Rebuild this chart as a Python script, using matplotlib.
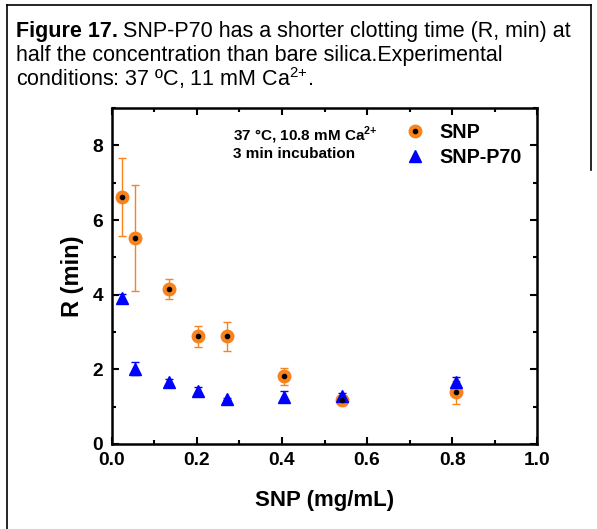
import matplotlib
matplotlib.use("Agg")
import matplotlib.pyplot as plt
from matplotlib.lines import Line2D
from matplotlib.legend_handler import HandlerTuple

plt.rcParams['font.family'] = ['Liberation Sans', 'DejaVu Sans']
plt.rcParams['mathtext.fontset'] = 'custom'
plt.rcParams['mathtext.rm'] = 'Liberation Sans'
plt.rcParams['mathtext.bf'] = 'Liberation Sans:bold'

# data
snp_x = [0.025, 0.054, 0.135, 0.203, 0.27, 0.405, 0.54, 0.81]
snp_y = [6.62, 5.52, 4.16, 2.88, 2.88, 1.81, 1.17, 1.38]
snp_err = [1.05, 1.43, 0.27, 0.27, 0.38, 0.22, 0.05, 0.30]

p70_x = [0.025, 0.054, 0.135, 0.203, 0.27, 0.405, 0.54, 0.81]
p70_y = [3.90, 2.02, 1.65, 1.42, 1.20, 1.27, 1.28, 1.66]
p70_err = [0.12, 0.18, 0.10, 0.10, 0.03, 0.14, 0.08, 0.13]

orange = '#F7821E'
blue = '#0000FF'

fig = plt.figure(figsize=(5.97, 5.29), dpi=100)

# outer frame lines
fig.add_artist(Line2D([7/597, 7/597], [0, 1 - 5/529], color='black', lw=1.2))
fig.add_artist(Line2D([7/597, 591/597], [1 - 5/529, 1 - 5/529], color='black', lw=1.2))
fig.add_artist(Line2D([591/597, 591/597], [1 - 5/529, 1 - 170/529], color='black', lw=1.2))

# caption
cap_size = 15.5
t = fig.text(16/597, 1 - 32/529, 'Figure 17.', fontsize=cap_size, fontweight='bold', va='center')
fig.canvas.draw()
bb = t.get_window_extent()
fig.text((bb.x1 + 5) / 597, 1 - 32/529, 'SNP-P70 has a shorter clotting time (R, min) at',
         fontsize=cap_size, va='center')
fig.text(16/597, 1 - 55/529, 'half the concentration than bare silica.Experimental',
         fontsize=cap_size, va='center')
fig.text(16/597, 1 - 78/529, 'conditions: 37 ºC, 11 mM Ca$^{2{+}}$.',
         fontsize=cap_size, va='center')

ax = fig.add_axes([111.7/597, 85/529, (537.3 - 111.7)/597, (444 - 108)/529])

ax.errorbar(snp_x, snp_y, yerr=snp_err, fmt='none', ecolor=orange, elinewidth=1.0,
            capsize=3, capthick=1.0, zorder=2)
ax.plot(snp_x, snp_y, 'o', color=orange, markersize=9, zorder=3)
ax.plot(snp_x, snp_y, 'o', color='black', markersize=3, zorder=4)

ax.errorbar(p70_x, p70_y, yerr=p70_err, fmt='none', ecolor=blue, elinewidth=1.0,
            capsize=3, capthick=1.0, zorder=2)
ax.plot(p70_x, p70_y, '^', color=blue, markersize=9, zorder=3)

ax.set_xlim(0, 1.0)
ax.set_ylim(0, 9)
ax.set_xticks([0.0, 0.2, 0.4, 0.6, 0.8, 1.0])
ax.set_xticks([0.1, 0.3, 0.5, 0.7, 0.9], minor=True)
ax.set_yticks([0, 2, 4, 6, 8])
ax.set_yticks([1, 3, 5, 7, 9], minor=True)
ax.set_xticklabels(['0.0', '0.2', '0.4', '0.6', '0.8', '1.0'], fontweight='bold')
ax.set_yticklabels(['0', '2', '4', '6', '8'], fontweight='bold')

ax.tick_params(which='both', direction='in', top=True, right=True, labelsize=13.8, width=1.5)
ax.tick_params(which='major', length=5, pad=6)
ax.tick_params(which='minor', length=3)
for s in ax.spines.values():
    s.set_linewidth(1.8)

ax.set_xlabel('SNP (mg/mL)', fontsize=16, fontweight='bold', labelpad=15)
ax.set_ylabel('R (min)', fontsize=17, fontweight='bold', labelpad=6)

ax.text(0.285, 8.28, '37 °C, 10.8 mM Ca$^{\\mathbf{2{+}}}$', fontsize=11, fontweight='bold', va='center')
ax.text(0.285, 7.77, '3 min incubation', fontsize=11, fontweight='bold', va='center')

h_snp = (Line2D([], [], marker='o', color=orange, ls='none', markersize=9),
         Line2D([], [], marker='o', color='black', ls='none', markersize=3))
h_p70 = Line2D([], [], marker='^', color=blue, ls='none', markersize=9)
ax.legend([h_snp, h_p70], ['SNP', 'SNP-P70'], handler_map={tuple: HandlerTuple(ndivide=1, pad=0)},
          loc='upper left', bbox_to_anchor=(0.684, 0.955), frameon=False, borderpad=0,
          borderaxespad=0, prop={'weight': 'bold', 'size': 14.2}, handletextpad=0.65,
          handlelength=1.2, labelspacing=0.3)

fig.savefig('out.png', dpi=100)
